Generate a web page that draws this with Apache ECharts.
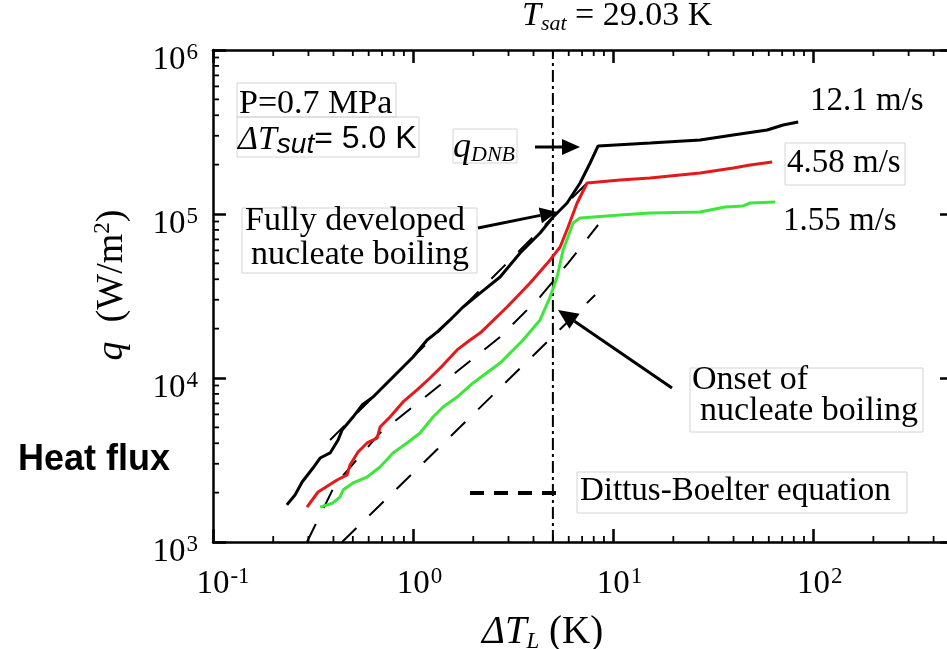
<!DOCTYPE html>
<html>
<head>
<meta charset="utf-8">
<script src="https://cdn.jsdelivr.net/npm/echarts@6/dist/echarts.min.js"></script>
<style>
html, body { margin: 0; padding: 0; background: #fff; }
#chart { width: 947px; height: 649px; }
</style>
</head>
<body>
<div id="chart"></div>
<script>
// data: [ΔT_L (K), q (W/m2)]
var flow121 = [[0.234,1683],[0.257,1936],[0.279,2323],[0.316,2825],[0.343,3251],[0.385,3491],[0.422,4188],[0.442,4819],[0.501,5781],[0.556,6839],[0.631,7656],[0.724,9057],[0.891,11670],[1.0,13430],[1.175,17060],[1.318,19050],[1.531,22590],[1.778,27100],[2.163,32960],[2.723,41300],[3.428,57810],[4.315,76560],[5.012,95940],[5.888,116700],[6.839,154500],[7.674,204600],[8.414,260000],[15.31,271000],[27.23,282500],[39.81,303400],[58.88,325100],[70.79,349100],[84.14,363900]];
var flow458 = [[0.295,1633],[0.335,2018],[0.417,2388],[0.468,2564],[0.484,2951],[0.531,3540],[0.589,4018],[0.661,4305],[0.684,5023],[0.767,5781],[0.891,7145],[1.047,8453],[1.216,10000],[1.413,11990],[1.66,14830],[1.928,17060],[2.163,18790],[2.951,27100],[3.846,37930],[4.842,52480],[5.433,62950],[5.957,83370],[6.607,116700],[7.413,154500],[10.84,161100],[15.31,166000],[27.23,177800],[39.81,190500],[48.42,199100],[62.37,207500]];
var flow155 = [[0.343,1633],[0.398,1730],[0.431,1879],[0.447,2075],[0.501,2291],[0.589,2489],[0.684,2864],[0.794,3491],[0.933,4018],[1.084,4624],[1.259,5781],[1.413,6653],[1.66,7656],[1.995,9333],[2.723,12330],[3.548,17060],[4.315,22590],[4.842,31190],[5.248,41300],[5.623,60260],[6.31,88100],[6.839,94620],[10.84,98630],[15.31,101400],[27.23,102800],[36.31,110400],[44.67,111900],[48.42,116700],[64.57,118300]];
// Dittus-Boelter equation lines
var dbHigh = [[0.385,4188],[8.414,180300]];
var dbMid = [[0.295,1000],[0.407,2228],[0.684,4624],[1.365,9057],[2.723,17780],[4.315,31190],[5.957,50230],[8.414,85700]];
var dbLow = [[0.442,1000],[1.718,5023],[8.128,32060]];
// inlet subcooling line
var subcooling = 5.0;
// axes
var xRange = [0.1, 500];
var yRange = [1e3, 1e6];
var xMinorTicks = [0.2,0.3,0.4,0.5,0.6,0.7,0.8,0.9,2,3,4,5,6,7,8,9,20,30,40,50,60,70,80,90,200,300,400];
var yMinorTicks = [2e3,3e3,4e3,5e3,6e3,7e3,8e3,9e3,2e4,3e4,4e4,5e4,6e4,7e4,8e4,9e4,2e5,3e5,4e5,5e5,6e5,7e5,8e5,9e5];

var serif = 'Liberation Serif', sans = 'Liberation Sans';

function powerLabel(v, padX) {
    var e = Math.round(Math.log(v) / Math.LN10);
    if (Math.abs(v / Math.pow(10, e) - 1) > 1e-6) return '';
    var s = '{a|10}{b|' + e + '}';
    if (padX) s = '{' + (String(e).length > 1 ? 'p2' : 'p1') + '| }' + s;
    return s;
}
var powRich = {
    a: {fontFamily: serif, fontSize: 33, lineHeight: 36, verticalAlign: 'bottom', color: '#000'},
    b: {fontFamily: serif, fontSize: 23, lineHeight: 16, verticalAlign: 'top', color: '#000', padding: [0, 0, 0, 1]},
    p1: {width: 13}, p2: {width: 20}
};

function baseAxis(pos, range) {
    return {
        type: 'log', logBase: 10, position: pos, min: range[0], max: range[1],
        axisLine: {show: true, onZero: false, lineStyle: {color: '#000', width: 2.5}},
        axisTick: {show: true, inside: true, length: 13, lineStyle: {color: '#000', width: 2.5}},
        splitLine: {show: false}, minorTick: {show: false}, minorSplitLine: {show: false},
        axisLabel: {show: false}
    };
}
var xBottom = baseAxis('bottom', xRange);
xBottom.axisLabel = {show: true, margin: 23, formatter: function (v) { return powerLabel(v, true); }, rich: powRich};
var yLeft = baseAxis('left', yRange);
yLeft.axisLabel = {show: true, margin: 15, padding: [18, 0, 0, 0], formatter: function (v) { return powerLabel(v, false); }, rich: powRich};

// minor ticks drawn on all four sides
function xMinorItem(params, api) {
    var cs = params.coordSys;
    var px = api.coord([api.value(0), yRange[0]])[0];
    var st = {stroke: '#000', lineWidth: 1.8};
    return {type: 'group', children: [
        {type: 'line', shape: {x1: px, y1: cs.y + cs.height, x2: px, y2: cs.y + cs.height - 6}, style: st},
        {type: 'line', shape: {x1: px, y1: cs.y, x2: px, y2: cs.y + 6}, style: st}
    ]};
}
function yMinorItem(params, api) {
    var cs = params.coordSys;
    var py = api.coord([xRange[0], api.value(1)])[1];
    var st = {stroke: '#000', lineWidth: 1.8};
    return {type: 'group', children: [
        {type: 'line', shape: {x1: cs.x, y1: py, x2: cs.x + 6, y2: py}, style: st},
        {type: 'line', shape: {x1: cs.x + cs.width, y1: py, x2: cs.x + cs.width - 6, y2: py}, style: st}
    ]};
}

function arrow(x1, y1, x2, y2, L, W) {
    var ang = Math.atan2(y2 - y1, x2 - x1);
    var bx = x2 - L * Math.cos(ang), by = y2 - L * Math.sin(ang);
    var nx = -Math.sin(ang) * W, ny = Math.cos(ang) * W;
    return [
        {type: 'line', z: 20, shape: {x1: x1, y1: y1, x2: bx, y2: by}, style: {stroke: '#000', lineWidth: 3}},
        {type: 'polygon', z: 20, shape: {points: [[x2, y2], [bx + nx, by + ny], [bx - nx, by - ny]]}, style: {fill: '#000'}}
    ];
}
function box(x1, y1, x2, y2) {
    return {type: 'rect', z: 15, shape: {x: x1, y: y1, width: x2 - x1, height: y2 - y1},
        style: {fill: null, stroke: '#d4d4d4', lineWidth: 1}};
}
function label(x, y, text, size, extra) {
    var st = {text: text, fontFamily: serif, fontSize: size, fill: '#000', align: 'left', verticalAlign: 'middle'};
    for (var k in extra) st[k] = extra[k];
    return {type: 'text', z: 20, x: x, y: y, style: st};
}

var graphics = [
    box(237, 83, 396, 117), box(237, 117, 419, 157), box(453, 129, 517, 163),
    box(242, 208, 477, 273), box(785, 143, 905, 185), box(690, 368, 923, 432), box(577, 472, 907, 513),
    label(522, 17, '{t|T}{s|sat}{r| = 29.03 K}', 34, {rich: {
        t: {fontFamily: serif, fontStyle: 'italic', fontSize: 34, lineHeight: 36, verticalAlign: 'top'},
        s: {fontFamily: serif, fontStyle: 'italic', fontSize: 22, lineHeight: 13, verticalAlign: 'bottom'},
        r: {fontFamily: serif, fontSize: 34, lineHeight: 36, verticalAlign: 'top'}}}),
    label(239, 104, 'P=0.7 MPa', 34),
    label(238, 141, '{a|\u0394T}{b|sut}{c|= 5.0 K}', 34, {rich: {
        a: {fontFamily: serif, fontStyle: 'italic', fontSize: 34, lineHeight: 36, verticalAlign: 'top'},
        b: {fontFamily: sans, fontStyle: 'italic', fontSize: 28, lineHeight: 18, verticalAlign: 'bottom'},
        c: {fontFamily: sans, fontSize: 32, lineHeight: 36, verticalAlign: 'top'}}}),
    label(453, 148, '{a|q}{b|DNB}', 36, {rich: {
        a: {fontFamily: serif, fontStyle: 'italic', fontSize: 36, lineHeight: 36, verticalAlign: 'top'},
        b: {fontFamily: serif, fontStyle: 'italic', fontSize: 22, lineHeight: 10, verticalAlign: 'bottom'}}}),
    label(810, 101, '12.1 m/s', 33),
    label(787, 163, '4.58 m/s', 33),
    label(783, 221, '1.55 m/s', 33),
    label(245, 221, 'Fully developed', 34),
    label(251, 255, 'nucleate boiling', 34),
    label(692, 380, 'Onset of', 34),
    label(700, 411, 'nucleate boiling', 34),
    label(580, 491, 'Dittus-Boelter equation', 33),
    label(18, 460, 'Heat flux', 36, {fontFamily: sans, fontWeight: 'bold'}),
    label(482, 633, '{i|\u0394T}{l|L}{n| (K)}', 39, {rich: {
        i: {fontFamily: serif, fontStyle: 'italic', fontSize: 39, lineHeight: 40, verticalAlign: 'top'},
        l: {fontFamily: serif, fontStyle: 'italic', fontSize: 23, lineHeight: 17, verticalAlign: 'bottom'},
        n: {fontFamily: serif, fontSize: 39, lineHeight: 40, verticalAlign: 'top'}}}),
    {type: 'text', z: 20, x: 111, y: 285, rotation: Math.PI / 2, style: {
        text: '{i|q}{n|  (W/m}{p|2}{n|)}', align: 'center', verticalAlign: 'middle', fill: '#000',
        rich: {
            i: {fontFamily: serif, fontStyle: 'italic', fontSize: 38, lineHeight: 40, verticalAlign: 'bottom'},
            n: {fontFamily: serif, fontSize: 38, lineHeight: 40, verticalAlign: 'bottom'},
            p: {fontFamily: serif, fontSize: 23, lineHeight: 18, verticalAlign: 'top'}}}},
    {type: 'line', z: 20, shape: {x1: 470, y1: 493, x2: 557, y2: 493},
        style: {stroke: '#000', lineWidth: 4, lineDash: [14, 10]}}
].concat(arrow(535, 147, 580, 147, 18, 8), arrow(478, 228, 557, 212, 17, 8), arrow(672, 388, 558, 310, 20, 9));

function curve(name, data, color) {
    return {name: name, type: 'line', data: data, showSymbol: false, symbol: 'none', z: 5,
        lineStyle: {color: color, width: 3}, itemStyle: {color: color}};
}
function dashed(name, data) {
    return {name: name, type: 'line', data: data, showSymbol: false, symbol: 'none', z: 4,
        lineStyle: {color: '#000', width: 2, type: [20, 18]}};
}

var chart = echarts.init(document.getElementById('chart'));
chart.setOption({
    animation: false,
    backgroundColor: '#fff',
    grid: {left: 213, top: 50, right: -6, bottom: 107, containLabel: false, outerBoundsMode: 'none'},
    xAxis: [xBottom, baseAxis('top', xRange)],
    yAxis: [yLeft, baseAxis('right', yRange)],
    graphic: graphics,
    series: [
        {type: 'custom', silent: true, renderItem: xMinorItem, data: xMinorTicks.map(function (v) { return [v, yRange[0]]; }), z: 3},
        {type: 'custom', silent: true, renderItem: yMinorItem, data: yMinorTicks.map(function (v) { return [xRange[0], v]; }), z: 3},
        {name: 'subcooling', type: 'line', showSymbol: false, symbol: 'none', z: 3, silent: true,
            data: [[subcooling, yRange[0]], [subcooling, yRange[1]]],
            lineStyle: {color: '#000', width: 2, type: [12, 4, 3, 4]}},
        dashed('DB high', dbHigh),
        dashed('DB mid', dbMid),
        dashed('DB low', dbLow),
        curve('12.1 m/s', flow121, '#000000'),
        curve('4.58 m/s', flow458, '#e3191b'),
        curve('1.55 m/s', flow155, '#3fe63a')
    ]
});
</script>
</body>
</html>
